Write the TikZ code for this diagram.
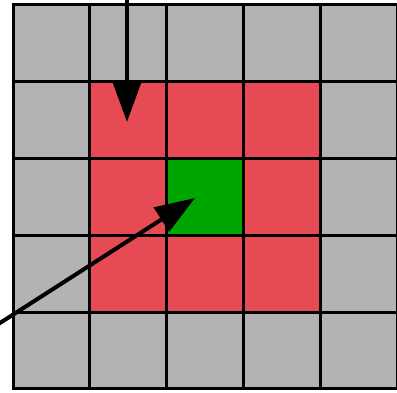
\documentclass[tikz,border=0pt]{standalone}
\usetikzlibrary{arrows.meta}
\definecolor{cellgray}{HTML}{B3B3B3}
\definecolor{cellred}{HTML}{E64A53}
\definecolor{cellgreen}{HTML}{00A600}
\tikzset{
  cell/.style={draw=black, line width=3pt, minimum size=76.8pt, inner sep=0pt, outer sep=0pt, anchor=north west},
  bigarrow/.style={line width=4pt, -{Triangle[length=40pt,width=28pt]}}
}
\begin{document}
\begin{tikzpicture}[x=1pt,y=-1pt]
\useasboundingbox (0,0) rectangle (397,393);
\foreach \i in {0,...,4}{
  \foreach \j in {0,...,4}{
    \pgfmathtruncatemacro{\inner}{(\i>0)*(\i<4)*(\j>0)*(\j<4)}
    \pgfmathtruncatemacro{\center}{(\i==2)*(\j==2)}
    \ifnum\center=1
      \node[cell, fill=cellgreen] (c-\i-\j) at ({13+76.8*\i},{5+76.8*\j}) {};
    \else\ifnum\inner=1
      \node[cell, fill=cellred] (c-\i-\j) at ({13+76.8*\i},{5+76.8*\j}) {};
    \else
      \node[cell, fill=cellgray] (c-\i-\j) at ({13+76.8*\i},{5+76.8*\j}) {};
    \fi\fi
  }
}
\coordinate (s1) at (127,-5);
\coordinate (t1) at (127,122);
\coordinate (s2) at (-5,326.2);
\coordinate (t2) at (195,198);
\draw[bigarrow] (s1) -- (t1);
\draw[bigarrow] (s2) -- (t2);
\end{tikzpicture}
\end{document}
